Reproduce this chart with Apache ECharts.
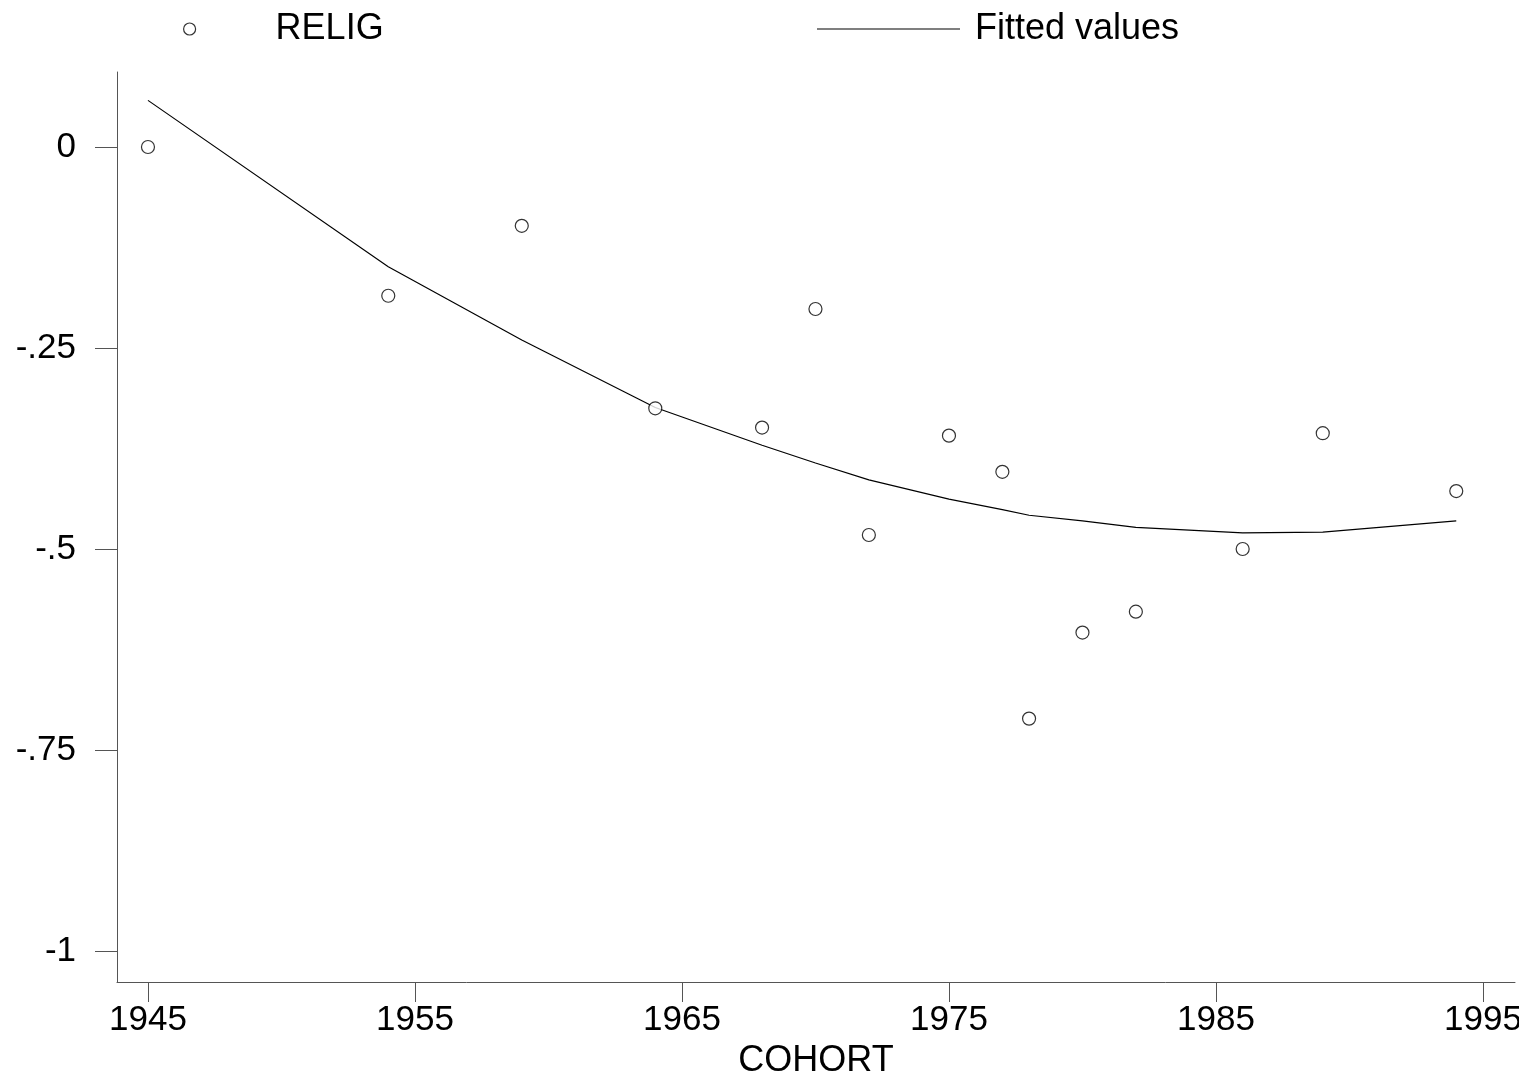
<!DOCTYPE html>
<html>
<head>
<meta charset="utf-8">
<script src="https://cdn.jsdelivr.net/npm/echarts@6/dist/echarts.min.js"></script>
<style>
html,body{margin:0;padding:0;background:#fff;}
#chart{width:1519px;height:1072px;}
</style>
</head>
<body>
<div id="chart"></div>
<script>
// Data
const cohort = [1945, 1954, 1959, 1964, 1968, 1970, 1972, 1975, 1977, 1978, 1980, 1982, 1986, 1989, 1994];
const relig  = [0, -0.185, -0.098, -0.325, -0.349, -0.2015, -0.4826, -0.359, -0.404, -0.711, -0.604, -0.578, -0.5, -0.356, -0.428];
const fitted = [0.058, -0.149, -0.240, -0.324, -0.371, -0.393, -0.414, -0.438, -0.451, -0.458, -0.465, -0.473, -0.480, -0.479, -0.465];

const xTicks = [1945, 1955, 1965, 1975, 1985, 1995];
const yTicks = [0, -0.25, -0.5, -0.75, -1];
const yTickLabels = ['0', '-.25', '-.5', '-.75', '-1'];

const FONT = 'Liberation Sans, Arial, sans-serif';
const AXIS_COLOR = '#555';

const chart = echarts.init(document.getElementById('chart'), null, {renderer: 'canvas'});
chart.setOption({
  animation: false,
  backgroundColor: '#fff',
  textStyle: {fontFamily: FONT},
  grid: {left: 117, right: 4, top: 72, bottom: 90, containLabel: false, outerBoundsMode: 'none'},
  legend: [
    {
      data: [{name: 'RELIG', icon: 'circle'}],
      left: 178, top: 6,
      itemWidth: 162, itemHeight: 12,
      itemStyle: {color: '#fff', borderColor: '#000', borderWidth: 1.2},
      textStyle: {fontFamily: FONT, fontSize: 36, color: '#000', padding: [0, 0, 12, 0]},
      selectedMode: false
    },
    {
      data: [{name: 'Fitted values', icon: 'rect'}],
      left: 812, top: 6,
      itemWidth: 143, itemHeight: 1,
      itemStyle: {color: '#000', borderWidth: 0},
      textStyle: {fontFamily: FONT, fontSize: 36, color: '#000', padding: [0, 0, 12, 10]},
      selectedMode: false
    }
  ],
  xAxis: {
    type: 'value',
    min: 1943.84, max: 1996.2,
    name: 'COHORT',
    nameLocation: 'middle',
    nameGap: 56,
    nameTextStyle: {fontFamily: FONT, fontSize: 36, color: '#000', verticalAlign: 'top'},
    axisLine: {show: true, onZero: false, lineStyle: {color: AXIS_COLOR, width: 1}},
    axisTick: {show: true, inside: false, length: 20, customValues: xTicks, lineStyle: {color: AXIS_COLOR, width: 1}},
    axisLabel: {show: true, customValues: xTicks, margin: 21, fontFamily: FONT, fontSize: 35, color: '#000',
      formatter: v => String(Math.round(v))},
    splitLine: {show: false}
  },
  yAxis: {
    type: 'value',
    min: -1.0386, max: 0.0933,
    axisLine: {show: true, onZero: false, lineStyle: {color: AXIS_COLOR, width: 1}},
    axisTick: {show: true, inside: false, length: 22, customValues: yTicks, lineStyle: {color: AXIS_COLOR, width: 1}},
    axisLabel: {show: true, customValues: yTicks, margin: 41, fontFamily: FONT, fontSize: 35, color: '#000',
      formatter: v => {
        const i = yTicks.findIndex(t => Math.abs(t - v) < 1e-6);
        return i >= 0 ? yTickLabels[i] : '';
      }},
    splitLine: {show: false}
  },
  series: [
    {
      name: 'RELIG',
      type: 'scatter',
      data: cohort.map((c, i) => [c, relig[i]]),
      symbol: 'circle',
      symbolSize: 13,
      itemStyle: {color: '#fff', borderColor: '#000', borderWidth: 1.2},
      z: 3
    },
    {
      name: 'Fitted values',
      type: 'line',
      data: cohort.map((c, i) => [c, fitted[i]]),
      showSymbol: false,
      symbol: 'none',
      lineStyle: {color: '#000', width: 1.2},
      itemStyle: {color: '#000'},
      z: 2
    }
  ]
});
</script>
</body>
</html>
